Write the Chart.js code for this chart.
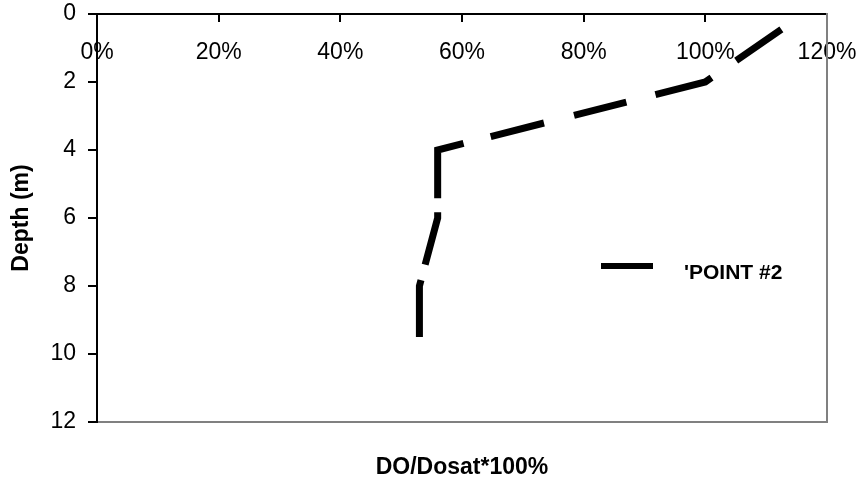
<!DOCTYPE html>
<html><head><meta charset="utf-8">
<script src="https://cdn.jsdelivr.net/npm/chart.js@4.4.1/dist/chart.umd.min.js"></script>
<style>html,body{margin:0;padding:0;background:#fff;}#wrap{width:863px;height:482px;}</style>
</head><body><div id="wrap"><canvas id="c" width="863" height="482"></canvas></div>
<script>
const seriesName = "'POINT #2";
const depthM = [0.45, 2, 4, 6, 8, 9.5];
const doSatPct = [112.5, 100, 56, 56, 53, 53];
const xTickValues = [0, 20, 40, 60, 80, 100, 120];
const yTickValues = [0, 2, 4, 6, 8, 10, 12];
const xTitle = 'DO/Dosat*100%';
const yTitle = 'Depth (m)';

const FONT = '"Liberation Sans", Arial, sans-serif';
const points = doSatPct.map((v, i) => ({ x: v, y: depthM[i] }));

const insideLegend = {
  id: 'insideLegend',
  afterDatasetsDraw(chart) {
    const ctx = chart.ctx;
    const ds = chart.data.datasets[0];
    ctx.save();
    ctx.strokeStyle = '#000';
    ctx.lineWidth = 6;
    ctx.lineCap = 'butt';
    ctx.setLineDash([]);
    ctx.beginPath();
    ctx.moveTo(601, 266);
    ctx.lineTo(653, 266);
    ctx.stroke();
    ctx.fillStyle = '#000';
    ctx.font = 'bold 21px ' + FONT;
    ctx.textBaseline = 'middle';
    ctx.textAlign = 'left';
    ctx.fillText(ds.label, 684, 273);
    ctx.restore();
  }
};

function noPad(s) { s.paddingTop = 0; s.paddingBottom = 0; s.paddingLeft = 0; s.paddingRight = 0; }

new Chart(document.getElementById('c'), {
  type: 'line',
  data: {
    datasets: [{
      label: seriesName,
      data: points,
      xAxisID: 'x',
      yAxisID: 'y',
      borderColor: '#000',
      backgroundColor: '#000',
      borderWidth: 7,
      borderDash: [55, 30, 59, 30, 54, 31, 55, 28, 75, 14, 54, 16, 120, 20],
      borderCapStyle: 'butt',
      borderJoinStyle: 'miter',
      pointRadius: 0,
      tension: 0,
      fill: false
    }]
  },
  options: {
    responsive: false,
    animation: false,
    layout: { padding: 0 },
    plugins: { legend: { display: false }, tooltip: { enabled: false } },
    scales: {
      x: {
        type: 'linear', position: 'top', min: 0, max: 120,
        afterBuildTicks: s => { s.ticks = xTickValues.map(v => ({ value: v })); },
        afterFit: s => { s.height = 14; noPad(s); s._computeLabelArea = () => null; },
        ticks: { color: '#000', font: { family: FONT, size: 23 }, padding: -44, maxRotation: 0, autoSkip: false,
                 callback: v => v + '%' },
        grid: { drawOnChartArea: false, tickLength: -8, color: '#000', lineWidth: 2 },
        border: { color: '#000', width: 2 }
      },
      x2: {
        type: 'linear', position: 'bottom', min: 0, max: 120,
        afterFit: s => { s.height = 60; noPad(s); },
        ticks: { display: false },
        grid: { drawOnChartArea: false, drawTicks: false, color: '#808080' },
        border: { color: '#808080', width: 2 },
        title: { display: true, text: xTitle, color: '#000', font: { family: FONT, size: 23, weight: 'bold' }, padding: { top: 0, bottom: 1 } }
      },
      y: {
        type: 'linear', position: 'left', reverse: true, min: 0, max: 12,
        afterBuildTicks: s => { s.ticks = yTickValues.map(v => ({ value: v })); },
        afterFit: s => { s.width = 97; noPad(s); },
        ticks: { color: '#000', font: { family: FONT, size: 23 }, padding: 12 },
        grid: { drawOnChartArea: false, tickLength: 9, color: '#000', lineWidth: 2 },
        border: { color: '#000', width: 2 },
        title: { display: true, text: yTitle, color: '#000', font: { family: FONT, size: 23, weight: 'bold' }, padding: { top: 8, bottom: 0 } }
      },
      y2: {
        type: 'linear', position: 'right', reverse: true, min: 0, max: 12,
        afterFit: s => { s.width = 36; noPad(s); },
        ticks: { display: false },
        grid: { drawOnChartArea: false, drawTicks: false, color: '#808080' },
        border: { color: '#808080', width: 2 }
      }
    }
  },
  plugins: [insideLegend]
});
</script>
</body></html>
